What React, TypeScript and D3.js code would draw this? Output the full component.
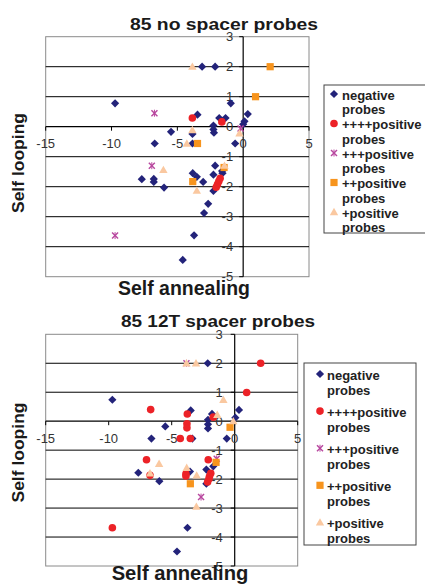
import React from "react";
import * as d3 from "d3";

// ---------- data ----------
const xTicks = [-15, -10, -5, 0, 5];
const yTicks = [3, 2, 1, 0, -1, -2, -3, -4, -5];
const seriesNames = ["negative", "++++positive", "+++positive", "++positive", "+positive"];
const titles = ["85 no spacer probes", "85 12T spacer probes"];
const xLabel = "Self annealing";
const yLabel = "Self looping";

// Chart A: 85 no spacer probes  [selfAnnealing, selfLooping]
const negA: [number, number][] = [
  [-3.12, 2], [-2.13, 2], [-9.73, 0.78], [-0.94, 0.78], [-3.47, 0.4], [-1.82, 0.29], [-1.34, 0.29],
  [0.35, 0.42], [0.1, 0.18], [0.0, 0.08], [-2.26, 0.04], [-2.26, -0.09], [-2.22, -0.2], [-5.48, -0.17],
  [-3.85, -0.24], [-6.72, -0.56], [-3.85, -0.56], [-0.61, -0.56], [-2.13, -1.3], [-1.6, -1.48],
  [-1.57, -1.55], [-2.26, -1.6], [-3.83, -1.55], [-3.52, -1.67], [-7.7, -1.75], [-6.79, -1.74],
  [-6.79, -1.84], [-6.01, -2.03], [-3.04, -1.84], [-2.26, -2.14], [-2.66, -2.57], [-2.97, -2.88],
  [-3.73, -3.62], [-4.59, -4.44],
];
const p4A: [number, number][] = [
  [-3.86, 0.29], [-1.62, 0.16], [-1.75, -1.72], [-1.85, -1.82], [-1.95, -1.92], [-2.05, -2.02],
];
const p3A: [number, number][] = [
  [-6.74, 0.45], [-0.2, -0.06], [-6.94, -1.3], [-9.73, -3.63],
];
const p2A: [number, number][] = [
  [2.05, 2], [0.94, 1], [-3.47, -0.56], [-3.83, -1.83], [-1.45, -1.36],
];
const p1A: [number, number][] = [
  [-3.86, 2], [-3.86, -0.11], [-0.28, -0.22], [-4.28, -0.56], [-6.06, -1.44], [-1.42, -1.3], [-3.52, -2.13],
];

// Chart B: 85 12T spacer probes
const negB: [number, number][] = [
  [-2.14, 2], [-9.71, 0.74], [-3.49, 0.37], [-1.8, 0.25], [0.34, 0.39], [0.05, 0.12], [-2.12, 0.05],
  [-2.12, -0.11], [-2.12, -0.25], [-5.51, -0.18], [-6.61, -0.6], [-3.36, -0.6], [-0.63, -0.6],
  [-7.65, -1.78], [-5.98, -2.07], [-3.55, -1.74], [-1.7, -1.56], [-2.25, -1.67], [-2.25, -2.16],
  [-3.75, -3.68], [-4.58, -4.5],
];
const p4B: [number, number][] = [
  [2.06, 2], [0.95, 0.99], [-6.67, 0.4], [-3.76, 0.25], [-1.7, 0.14], [-3.79, -0.09], [-3.79, -0.23],
  [-4.32, -0.6], [-3.52, -0.6], [-7.0, -1.33], [-6.72, -1.87], [-3.87, -1.82], [-3.87, -1.89],
  [-2.1, -1.33], [-1.9, -1.8], [-2.0, -1.9], [-2.05, -2.0], [-2.15, -2.1], [-9.71, -3.68],
];
const p3B: [number, number][] = [
  [-3.83, 2], [-1.43, -1.3], [-2.67, -2.62],
];
const p2B: [number, number][] = [
  [-0.37, -0.21], [-1.48, -1.42], [-3.52, -2.16],
];
const p1B: [number, number][] = [
  [-3.83, 2], [-3.07, 2], [-0.9, 0.74], [-1.38, 0.22], [-0.11, 0.0], [-6.0, -1.47], [-6.72, -1.8],
  [-3.81, -1.61], [-3.02, -1.87], [-3.04, -2.95],
];

// ---------- styles ----------
const COLORS = ["#23237a", "#ec2227", "#b8479f", "#f7941d", "#fac8a0"];
const FONT = "'Liberation Sans', Arial, Helvetica, sans-serif";

type Shape = "diamond" | "circle" | "x" | "square" | "triangle";
const SHAPES: Shape[] = ["diamond", "circle", "x", "square", "triangle"];

function Marker({ shape, x, y, color }: { shape: Shape; x: number; y: number; color: string }) {
  if (shape === "diamond") {
    const r = 4.1;
    return <path d={`M${x},${y - r}L${x + r},${y}L${x},${y + r}L${x - r},${y}Z`} fill={color} />;
  }
  if (shape === "circle") return <circle cx={x} cy={y} r={3.8} fill={color} />;
  if (shape === "square") return <rect x={x - 3.6} y={y - 3.6} width={7.2} height={7.2} fill={color} />;
  if (shape === "triangle") {
    const s = 4.2;
    return <path d={`M${x},${y - s}L${x + s},${y + s * 0.75}L${x - s},${y + s * 0.75}Z`} fill={color} />;
  }
  const r = 3;
  return (
    <g stroke={color} strokeWidth={1.4}>
      <line x1={x - r} y1={y - r} x2={x + r} y2={y + r} />
      <line x1={x - r} y1={y + r} x2={x + r} y2={y - r} />
      <line x1={x} y1={y - r - 0.5} x2={x} y2={y + r + 0.5} strokeWidth={1} />
    </g>
  );
}

interface ChartProps {
  series: [number, number][][];
  title: string;
  left: number; right: number; top: number; bottom: number;
  titleX: number; titleY: number; titleLen: number;
  yLabX: number; yLabY: number;
  xLabX: number; xLabY: number; xLabLen: number; xLabSize: number;
  yTickGap: number;
  legX: number; legY: number; legW: number; legH: number;
  legMarkX: number; legTextX: number; legFirst: number; legStep: number; legLine: number;
}

function Chart(p: ChartProps) {
  const x = d3.scaleLinear().domain([-15, 5]).range([p.left, p.right]);
  const y = d3.scaleLinear().domain([-5, 3]).range([p.bottom, p.top]);
  const x0 = x(0);
  const y0 = y(0);
  return (
    <g>
      <text x={p.titleX} y={p.titleY} textAnchor="middle" fontFamily={FONT} fontWeight="bold" fontSize={16.5}
        fill="#1a1a1a" textLength={p.titleLen} lengthAdjust="spacingAndGlyphs">{p.title}</text>
      <rect x={p.left} y={p.top} width={p.right - p.left} height={p.bottom - p.top} fill="#fff" stroke="#8a8a8a" strokeWidth={1} />
      {yTicks.filter((t) => t !== 3 && t !== -5 && t !== 0).map((t) => (
        <line key={"g" + t} x1={p.left} x2={p.right} y1={y(t)} y2={y(t)} stroke="#000" strokeWidth={1} />
      ))}
      {/* axes */}
      <line x1={p.left} x2={p.right} y1={y0} y2={y0} stroke="#000" strokeWidth={1.2} />
      <line x1={x0} x2={x0} y1={p.top} y2={p.bottom} stroke="#000" strokeWidth={1.2} />
      {yTicks.map((t) => (
        <line key={"yt" + t} x1={x0 - 4} x2={x0} y1={y(t)} y2={y(t)} stroke="#000" strokeWidth={1} />
      ))}
      {xTicks.map((t) => (
        <line key={"xt" + t} x1={x(t)} x2={x(t)} y1={y0} y2={y0 + 4} stroke="#000" strokeWidth={1} />
      ))}
      {xTicks.map((t) => (
        <text key={"xl" + t} x={x(t)} y={y0 + 21.5} textAnchor="middle" fontFamily={FONT} fontSize={13} fill="#333">
          {t < 0 ? "-" + Math.abs(t) : String(t)}
        </text>
      ))}
      {yTicks.map((t) => (
        <text key={"yl" + t} x={x0 - p.yTickGap} y={y(t) + 4.6} textAnchor="end" fontFamily={FONT} fontSize={13} fill="#333">
          {t < 0 ? "-" + Math.abs(t) : String(t)}
        </text>
      ))}
      {/* points */}
      {p.series.map((s, i) =>
        s.map((d, j) => <Marker key={i + "-" + j} shape={SHAPES[i]} x={x(d[0])} y={y(d[1])} color={COLORS[i]} />)
      )}
      {/* axis titles */}
      <text x={p.xLabX} y={p.xLabY} textAnchor="middle" fontFamily={FONT} fontWeight="bold" fontSize={p.xLabSize}
        fill="#1a1a1a" textLength={p.xLabLen} lengthAdjust="spacingAndGlyphs">{xLabel}</text>
      <text transform={`translate(${p.yLabX},${p.yLabY}) rotate(-90)`} textAnchor="middle" fontFamily={FONT}
        fontWeight="bold" fontSize={17} fill="#1a1a1a" textLength={100} lengthAdjust="spacingAndGlyphs">{yLabel}</text>
      {/* legend */}
      <rect x={p.legX} y={p.legY} width={p.legW} height={p.legH} fill="#fff" stroke="#444" strokeWidth={1} />
      {seriesNames.map((n, i) => {
        const cy = p.legFirst + i * p.legStep;
        return (
          <g key={"lg" + i}>
            <Marker shape={SHAPES[i]} x={p.legMarkX} y={cy - 1} color={COLORS[i]} />
            <text x={p.legTextX} y={cy + 4.5} fontFamily={FONT} fontWeight="bold" fontSize={13} fill="#222">{n}</text>
            <text x={p.legTextX} y={cy + 4.5 + p.legLine} fontFamily={FONT} fontWeight="bold" fontSize={13} fill="#222">probes</text>
          </g>
        );
      })}
    </g>
  );
}

export default function App() {
  return (
    <svg width={425} height={586} style={{ position: "absolute", left: 0, top: 0, background: "#fff" }}>
      <rect x={0} y={0} width={425} height={586} fill="#fff" />
      <Chart
        series={[negA, p4A, p3A, p2A, p1A]} title={titles[0]}
        left={45.7} right={309} top={36.7} bottom={276.7}
        titleX={224} titleY={30} titleLen={188}
        yLabX={23.7} yLabY={163}
        xLabX={184} xLabY={295} xLabLen={132} xLabSize={19.5}
        yTickGap={10}
        legX={324} legY={85} legW={115} legH={148}
        legMarkX={334} legTextX={342} legFirst={95} legStep={29.5} legLine={14.5}
      />
      <Chart
        series={[negB, p4B, p3B, p2B, p1B]} title={titles[1]}
        left={45.7} right={297.7} top={334.3} bottom={566}
        titleX={218} titleY={326.7} titleLen={194}
        yLabX={23.7} yLabY={452.5}
        xLabX={180} xLabY={580} xLabLen={136.7} xLabSize={20}
        yTickGap={12}
        legX={304} legY={363} legW={112} legH={182}
        legMarkX={320} legTextX={327} legFirst={375} legStep={37.1} legLine={15}
      />
    </svg>
  );
}
